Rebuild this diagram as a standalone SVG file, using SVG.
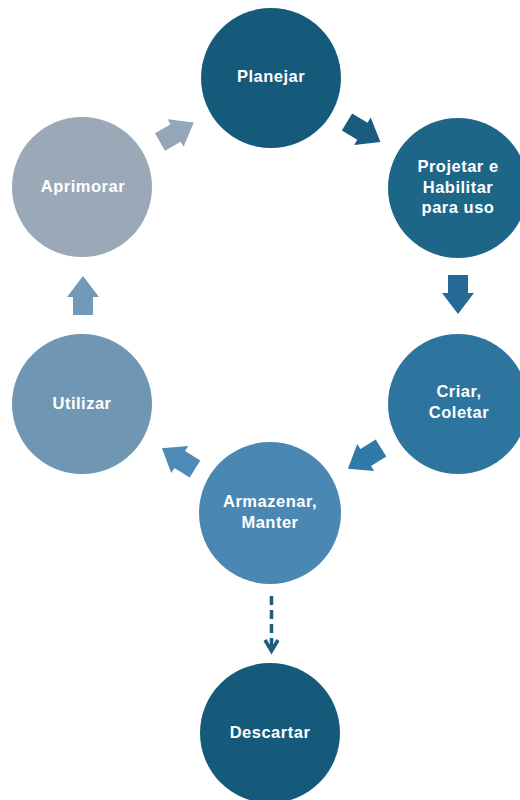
<svg xmlns="http://www.w3.org/2000/svg" width="520" height="800" viewBox="0 0 520 800">
  <style>
    .lbl { font-family: "Liberation Sans", Arial, sans-serif; font-weight: bold; font-size: 16.5px; fill: #ffffff; text-anchor: middle; letter-spacing: 0.5px; }
  </style>
  <defs>
    <!-- block arrow pointing right, tail at origin -->
    <path id="blk" d="M0,-10 L18,-10 L18,-16 L39,0 L18,16 L18,10 L0,10 Z"/>
  </defs>
  <rect width="520" height="800" fill="#ffffff"/>

  <g id="connectors">
    <use href="#blk" fill="#94A6B8" transform="translate(160,142) rotate(-30)"/>
    <use href="#blk" fill="#1A5C7D" transform="translate(347,122) rotate(31)"/>
    <use href="#blk" fill="#256A96" transform="translate(458,275) rotate(90)"/>
    <use href="#blk" fill="#2F7AA8" transform="translate(381,448) rotate(148)"/>
    <use href="#blk" fill="#4D8AB8" transform="translate(195,469) rotate(-148)"/>
    <use href="#blk" fill="#7199B8" transform="translate(83,315) rotate(-90)"/>
    <g stroke="#1B5E7E" stroke-width="3.5" fill="none">
      <line x1="271.5" y1="596" x2="271.5" y2="648" stroke-dasharray="9 5"/>
      <polyline points="265,640 271.5,651 278,640" stroke-linejoin="miter"/>
    </g>
  </g>

  <g id="planejar">
    <circle cx="271" cy="78" r="70" fill="#155A7A"/>
    <text class="lbl" x="271" y="82">Planejar</text>
  </g>
  <g id="projetar">
    <circle cx="458" cy="188" r="70" fill="#1D6688"/>
    <text class="lbl" x="458" y="172">Projetar e</text>
    <text class="lbl" x="458" y="193">Habilitar</text>
    <text class="lbl" x="458" y="213">para uso</text>
  </g>
  <g id="criar">
    <circle cx="458" cy="404" r="70" fill="#2D759E"/>
    <text class="lbl" x="459" y="397">Criar,</text>
    <text class="lbl" x="459" y="418">Coletar</text>
  </g>
  <g id="armazenar">
    <circle cx="270" cy="513" r="71" fill="#4A87B2"/>
    <text class="lbl" x="270" y="507">Armazenar,</text>
    <text class="lbl" x="270" y="528">Manter</text>
  </g>
  <g id="utilizar">
    <circle cx="82" cy="404" r="70" fill="#6F96B2"/>
    <text class="lbl" x="82" y="409">Utilizar</text>
  </g>
  <g id="aprimorar">
    <circle cx="82" cy="187" r="70" fill="#9AA8B7"/>
    <text class="lbl" x="83" y="192">Aprimorar</text>
  </g>
  <g id="descartar">
    <circle cx="270" cy="733" r="70" fill="#155A7A"/>
    <text class="lbl" x="270" y="738">Descartar</text>
  </g>
</svg>
